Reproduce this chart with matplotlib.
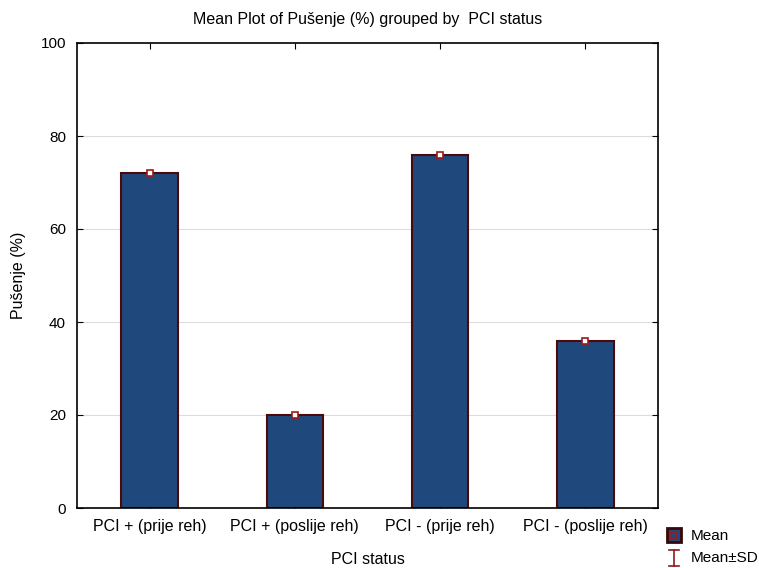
import matplotlib.pyplot as plt
from matplotlib.lines import Line2D
from matplotlib.patches import Rectangle

categories = ['PCI + (prije reh)', 'PCI + (poslije reh)', 'PCI - (prije reh)', 'PCI - (poslije reh)']
means = [72, 20, 76, 36]
y_ticks = [0, 20, 40, 60, 80, 100]

bar_color = '#1f497d'
edge_color = '#4b0a0a'
marker_color = '#a01818'

plt.rcParams['font.family'] = ['Liberation Sans', 'DejaVu Sans']

W, H = 759, 568
fig = plt.figure(figsize=(W / 100, H / 100), dpi=100)
ax = fig.add_axes([77 / W, 1 - 508 / H, (658 - 77) / W, (508 - 43) / H])

x = list(range(len(categories)))
ax.bar(x, means, width=0.39, color=bar_color, edgecolor=edge_color, linewidth=1.5, zorder=2)
ax.plot(x, means, linestyle='none', marker='s', markersize=5, markerfacecolor='white',
        markeredgecolor=marker_color, markeredgewidth=1.2, zorder=3)

ax.set_xlim(-0.5, len(categories) - 0.5)
ax.set_ylim(0, 100)
ax.set_yticks(y_ticks)
ax.set_xticks(x)
ax.set_xticklabels(categories, fontsize=11.5)
ax.tick_params(axis='y', labelsize=11, direction='in', right=True, length=4, pad=8)
ax.tick_params(axis='x', direction='in', top=True, length=4, pad=8)
for v in y_ticks[1:-1]:
    ax.axhline(v, color='#dcdcdc', linewidth=0.8, zorder=0)
for s in ax.spines.values():
    s.set_linewidth(1.2)

ax.set_title('Mean Plot of Pušenje (%) grouped by  PCI status', fontsize=11.5, pad=14)
ax.set_xlabel('PCI status', fontsize=11.5, labelpad=13)
ax.set_ylabel('Pušenje (%)', fontsize=11.5, labelpad=10)

# legend drawn by hand in figure pixels
def fx(px):
    return px / W

def fy(py):
    return 1 - py / H

fig.add_artist(Rectangle((fx(667), fy(542)), 14 / W, 14 / H, transform=fig.transFigure,
                         facecolor=bar_color, edgecolor='#3a0606', linewidth=2))
fig.add_artist(Line2D([fx(674)], [fy(535)], transform=fig.transFigure, marker='s',
                      markersize=5, markerfacecolor='none', markeredgecolor=marker_color,
                      markeredgewidth=1.2))
sd_color = '#8e1b1b'
fig.add_artist(Line2D([fx(674), fx(674)], [fy(550), fy(566)], transform=fig.transFigure,
                      color=sd_color, linewidth=1.2))
for yy in (550, 566):
    fig.add_artist(Line2D([fx(669), fx(679)], [fy(yy), fy(yy)], transform=fig.transFigure,
                          color=sd_color, linewidth=1.2))
fig.text(fx(691), fy(536), 'Mean', fontsize=11, va='center', ha='left')
fig.text(fx(691), fy(558), 'Mean±SD', fontsize=11, va='center', ha='left')

fig.savefig('out.png', dpi=100)
